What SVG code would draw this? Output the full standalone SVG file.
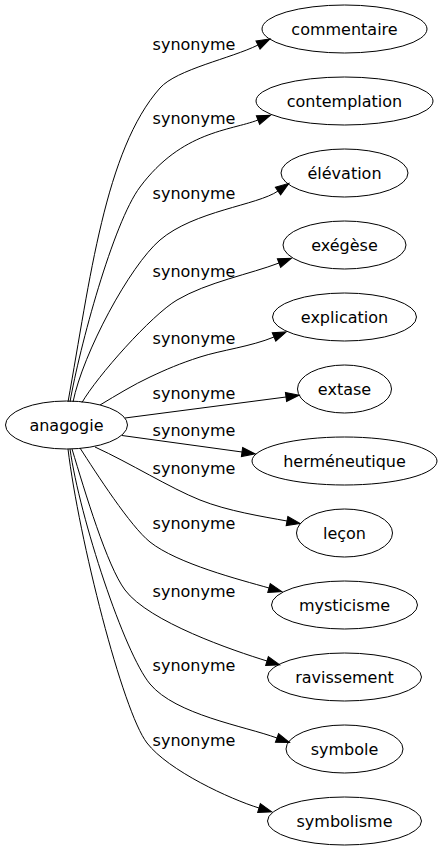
<svg xmlns="http://www.w3.org/2000/svg" width="442" height="851" viewBox="0 0 442 851">
<style>
  .node ellipse { fill: none; stroke: #000; stroke-width: 1; }
  text { font-family: "DejaVu Sans", "Noto Sans", sans-serif; font-size: 16px; fill: #000; text-anchor: middle; }
  .edge { fill: none; stroke: #000; stroke-width: 1; marker-end: url(#arr); }
</style>
<defs>
  <marker id="arr" markerUnits="userSpaceOnUse" orient="auto" viewBox="0 -6 16 12" markerWidth="16" markerHeight="12" refX="0" refY="0" overflow="visible">
    <path d="M0,-4.6 L13.3,0 L0,4.6 z" fill="#000" stroke="#000" stroke-width="1"/>
  </marker>
</defs>
<rect x="0" y="0" width="442" height="851" fill="#fff"/>

<g id="edges">
  <path class="edge" d="M68,402 C90,280 105,150 160,88 C176.6,69.3 231.2,58.4 258,45"/>
  <path class="edge" d="M70,402 C79.4,348 113,223 140,187 C181.9,130.9 230,130.8 258,120"/>
  <path class="edge" d="M73,402 C83,353 129.6,266 160,240 C194.2,210.8 257.5,205.3 278,191"/>
  <path class="edge" d="M82,402.5 C97,376.5 151.2,315.3 177,300 C207.1,282.2 251,273.8 279,263"/>
  <path class="edge" d="M100,405 C116.7,395 133.3,384.8 150,377 C166.7,369.2 179.3,363.7 200,357 C220.7,350.3 251.2,346.5 274,337"/>
  <path class="edge" d="M125,418 L286,397"/>
  <path class="edge" d="M122,435.5 L242,452"/>
  <path class="edge" d="M95,447 C130,463 170,488 200,500 C227.9,511.1 262.4,516.5 287,521"/>
  <path class="edge" d="M80,448 C96.2,473.2 130.5,526.5 150,542 C177.3,563.7 240.1,579.8 269,588"/>
  <path class="edge" d="M72,449 C85,492 107,566 125,590 C149,622 233.5,650.7 267,661"/>
  <path class="edge" d="M70,449 C79.8,518.3 124.4,653.2 150,684 C175.6,714.8 244.1,726 277,738"/>
  <path class="edge" d="M68,449 C78.8,538.4 122.6,711.4 147,743 C168.4,770.7 230.3,799.2 259,808"/>
  <g id="edge-labels">
    <text x="194" y="49.5">synonyme</text>
    <text x="194" y="123.5">synonyme</text>
    <text x="194" y="199">synonyme</text>
    <text x="194" y="276.5">synonyme</text>
    <text x="194" y="344">synonyme</text>
    <text x="194" y="399">synonyme</text>
    <text x="194" y="436">synonyme</text>
    <text x="194" y="474">synonyme</text>
    <text x="194" y="529">synonyme</text>
    <text x="194" y="597">synonyme</text>
    <text x="194" y="671">synonyme</text>
    <text x="194" y="746">synonyme</text>
  </g>
</g>

<g id="anagogie" class="node"><ellipse cx="66.5" cy="425" rx="61" ry="24"/><text x="66.5" y="430.5">anagogie</text></g>
<g id="commentaire" class="node"><ellipse cx="344.5" cy="29" rx="82.5" ry="24"/><text x="344.5" y="34.5">commentaire</text></g>
<g id="contemplation" class="node"><ellipse cx="344.5" cy="101" rx="88.5" ry="24"/><text x="344.5" y="106.5">contemplation</text></g>
<g id="elevation" class="node"><ellipse cx="344.5" cy="173" rx="63.5" ry="24"/><text x="344.5" y="178.5">élévation</text></g>
<g id="exegese" class="node"><ellipse cx="344.5" cy="245" rx="61.5" ry="24"/><text x="344.5" y="250.5">exégèse</text></g>
<g id="explication" class="node"><ellipse cx="344.5" cy="317" rx="72" ry="24"/><text x="344.5" y="322.5">explication</text></g>
<g id="extase" class="node"><ellipse cx="344.5" cy="389" rx="47" ry="24"/><text x="344.5" y="394.5">extase</text></g>
<g id="hermeneutique" class="node"><ellipse cx="344.5" cy="461" rx="92.5" ry="24"/><text x="344.5" y="466.5">herméneutique</text></g>
<g id="lecon" class="node"><ellipse cx="344.5" cy="533" rx="48" ry="24"/><text x="344.5" y="538.5">leçon</text></g>
<g id="mysticisme" class="node"><ellipse cx="344.5" cy="605" rx="73" ry="24"/><text x="344.5" y="610.5">mysticisme</text></g>
<g id="ravissement" class="node"><ellipse cx="344.5" cy="677" rx="77" ry="24"/><text x="344.5" y="682.5">ravissement</text></g>
<g id="symbole" class="node"><ellipse cx="344.5" cy="749" rx="58.5" ry="24"/><text x="344.5" y="754.5">symbole</text></g>
<g id="symbolisme" class="node"><ellipse cx="344.5" cy="821" rx="77" ry="24"/><text x="344.5" y="826.5">symbolisme</text></g>
</svg>
